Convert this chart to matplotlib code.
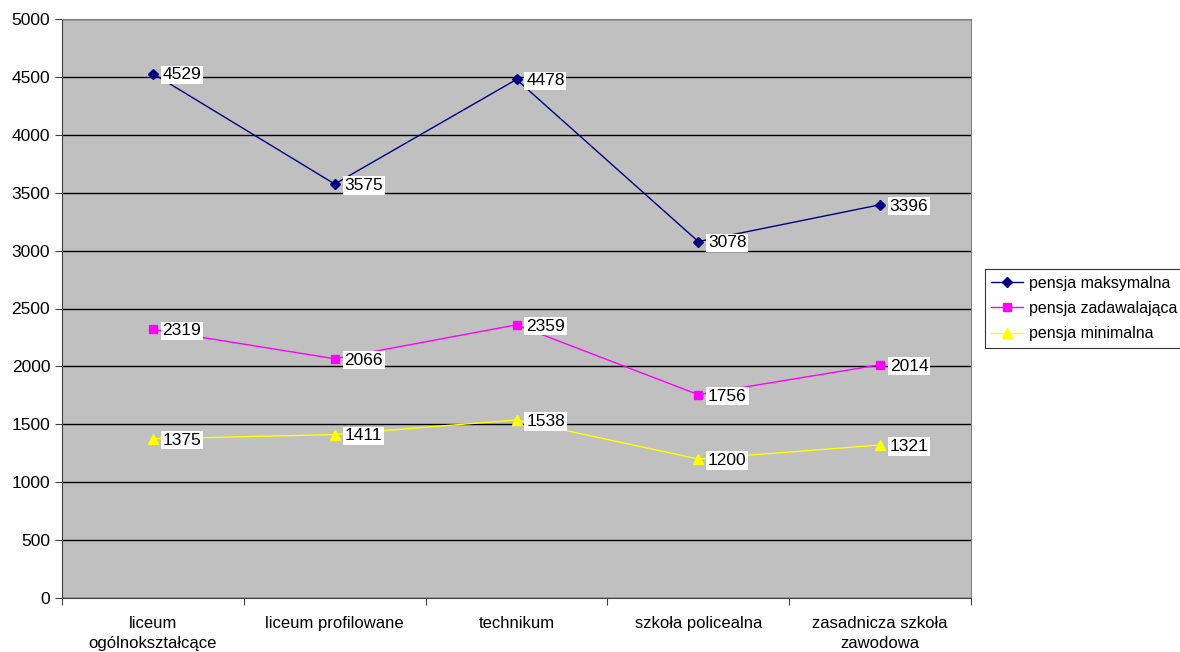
import matplotlib.pyplot as plt
import numpy as np

plt.rcParams['font.family'] = ['Liberation Sans', 'DejaVu Sans']

categories = ['liceum\nogólnokształcące', 'liceum profilowane', 'technikum',
              'szkoła policealna', 'zasadnicza szkoła\nzawodowa']
maks = [4529, 3575, 4478, 3078, 3396]
zadaw = [2319, 2066, 2359, 1756, 2014]
minim = [1375, 1411, 1538, 1200, 1321]

fig = plt.figure(figsize=(11.8, 6.52), dpi=100)
ax = fig.add_axes([62/1180, 54/652, 909/1180, 579/652])
ax.set_facecolor('#C0C0C0')

x = np.arange(len(categories))
series = [
    (maks, '#000080', 'D', 5, 'pensja maksymalna'),
    (zadaw, '#FF00FF', 's', 6, 'pensja zadawalająca'),
    (minim, '#FFFF00', '^', 7, 'pensja minimalna'),
]
for vals, col, mk, ms, lab in series:
    ax.plot(x, vals, color=col, marker=mk, markersize=ms, lw=1, label=lab, zorder=3)
    for xi, v in zip(x, vals):
        ax.annotate(str(v), (xi, v), xytext=(7, -1), textcoords='offset points',
                    va='center', ha='left', fontsize=12.5, zorder=4,
                    bbox=dict(boxstyle='square,pad=0.1', fc='white', ec='none'))

ax.set_xlim(-0.5, 4.5)
ax.set_ylim(0, 5000)
ax.set_yticks(np.arange(0, 5001, 500))
ax.grid(axis='y', color='black', lw=1)
ax.set_axisbelow(True)
ax.set_xticks(np.arange(-0.5, 5, 1))
ax.set_xticklabels([])
ax.set_xticks(x, minor=True)
ax.set_xticklabels(categories, minor=True, fontsize=12, linespacing=1.45)
ax.tick_params(axis='x', which='minor', length=0, pad=13)
ax.tick_params(axis='x', which='major', length=5, color='#404040')
ax.tick_params(axis='y', length=5, labelsize=12.5, color='#404040')
for s in ax.spines.values():
    s.set_color('#808080')
ax.spines['left'].set_color('#404040')
ax.spines['bottom'].set_color('#404040')

leg = ax.legend(loc='center left', bbox_to_anchor=(1.015, 0.50), fontsize=11.5,
                frameon=True, fancybox=False, edgecolor='black', borderpad=0.4,
                labelspacing=0.65, handlelength=2.0, handletextpad=0.35, borderaxespad=0)
leg.get_frame().set_linewidth(0.8)

plt.savefig('out.png')
